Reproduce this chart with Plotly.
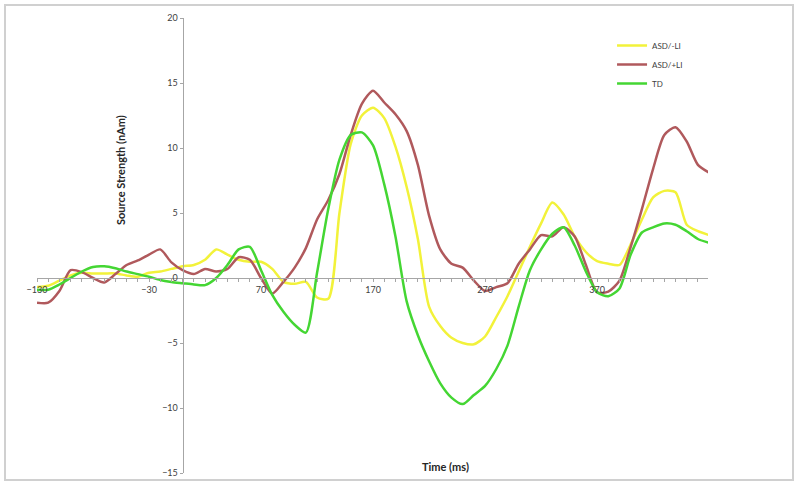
import plotly.graph_objects as go

time_ms = list(range(-130, 471, 10))

asd_minus_li = [-0.7, -0.6, -0.2, 0.2, 0.4, 0.35, 0.35, 0.35, 0.2, 0.1,
                0.4, 0.5, 0.7, 0.9, 1.0, 1.4, 2.2, 1.8, 1.4, 1.25,
                1.25, 0.7, -0.3, -0.45, -0.3, -1.5, -1.6, 5.0, 10.3, 12.5,
                13.1, 12.3, 10.1, 7.0, 3.0, -2.2, -3.7, -4.6, -5.0, -5.1,
                -4.5, -3.0, -1.4, 0.5, 2.4, 4.2, 5.8, 4.9, 3.2, 2.0,
                1.3, 1.1, 1.0, 2.6, 4.5, 6.2, 6.7, 6.6, 4.1, 3.6, 3.3]

asd_plus_li = [-1.9, -1.9, -1.0, 0.6, 0.45, 0.0, -0.35, 0.3, 1.0, 1.35,
               1.8, 2.2, 1.2, 0.6, 0.3, 0.7, 0.5, 0.7, 1.6, 1.4,
               0.0, -1.2, -0.3, 0.8, 2.3, 4.5, 6.0, 8.0, 11.0, 13.4,
               14.4, 13.5, 12.6, 11.3, 8.7, 4.8, 2.2, 1.1, 0.8, -0.2,
               -1.0, -0.7, -0.4, 1.1, 2.2, 3.3, 3.2, 3.9, 3.2, 1.0,
               -1.1, -1.05, -0.2, 2.4, 5.3, 8.4, 11.0, 11.6, 10.5, 8.7, 8.1]

td = [-0.9, -0.9, -0.5, 0.0, 0.5, 0.85, 0.9, 0.75, 0.5, 0.3,
      0.1, -0.15, -0.3, -0.4, -0.5, -0.55, 0.0, 1.0, 2.2, 2.4,
      0.6, -1.3, -2.6, -3.6, -4.2, 0.4, 5.3, 9.1, 11.0, 11.2,
      10.2, 7.2, 3.2, -1.8, -4.4, -6.4, -8.1, -9.2, -9.7, -9.0,
      -8.3, -7.0, -5.2, -2.2, 0.6, 2.2, 3.4, 3.9, 2.5, 0.5,
      -1.1, -1.4, -0.8, 1.8, 3.5, 3.9, 4.2, 4.1, 3.6, 3.0, 2.7]

series_names = ["ASD/-LI", "ASD/+LI", "TD"]
series_colors = ["#F2F23A", "#B0595C", "#44D633"]

fig = go.Figure()
for name, vals, col in zip(series_names, [asd_minus_li, asd_plus_li, td], series_colors):
    fig.add_trace(go.Scatter(x=time_ms, y=vals, mode="lines", name=name,
                             line=dict(color=col, width=2.5, shape="spline", smoothing=0.7)))

L, R, T, B = 37, 92, 18, 12
W, H = 800, 485
pw = W - L - R
ph = H - T - B
x_lo, x_hi = -130, 469
x0_frac = (0 - x_lo) / (x_hi - x_lo)
y0_frac = (0 - (-15)) / 35

axis_col = "#A6A6A6"
tick_font = dict(family="Lato, Open Sans, sans-serif", size=9, color="#404040")

def px_x(p):
    return (p - L) / pw

def px_y(p):
    return (H - B - p) / ph

fig.update_layout(
    width=W, height=H,
    margin=dict(l=L, r=R, t=T, b=B, autoexpand=False),
    paper_bgcolor="white", plot_bgcolor="white",
    font=dict(family="Lato, Open Sans, sans-serif", color="#404040"),
    xaxis=dict(range=[x_lo, x_hi], tick0=-130, dtick=100, showgrid=False, zeroline=False,
               showline=True, linecolor=axis_col, linewidth=1, automargin=False,
               ticks="outside", ticklen=3, tickcolor=axis_col,
               minor=dict(dtick=10, ticks="outside", ticklen=3, tickcolor=axis_col),
               anchor="free", position=y0_frac, tickfont=tick_font),
    yaxis=dict(range=[-15, 20], dtick=5, showgrid=False, zeroline=False,
               showline=True, linecolor=axis_col, linewidth=1, automargin=False,
               ticks="outside", ticklen=3, tickcolor=axis_col,
               anchor="free", position=x0_frac, tickfont=tick_font),
    legend=dict(x=0.857, y=px_y(31), xanchor="left", yanchor="top",
                font=dict(size=8, color="#404040"), bgcolor="rgba(0,0,0,0)",
                tracegroupgap=0),
    showlegend=True,
)

fig.add_annotation(text="<b>Source Strength (nAm)</b>", textangle=-90,
                   xref="paper", yref="paper", x=px_x(120), y=px_y(170),
                   xanchor="center", yanchor="middle",
                   showarrow=False, font=dict(size=11, color="#262626"))
fig.add_annotation(text="<b>Time (ms)</b>",
                   xref="paper", yref="paper", x=px_x(445), y=px_y(466),
                   xanchor="center", yanchor="middle",
                   showarrow=False, font=dict(size=11, color="#262626"))

fig.add_shape(type="rect", xref="paper", yref="paper",
              x0=px_x(5), x1=px_x(793), y0=px_y(480), y1=px_y(5),
              line=dict(color="#D0D0D0", width=2), layer="below")

fig.write_html("out.html", config={"displayModeBar": False},
               post_script="document.body.style.margin='0';document.body.style.overflow='hidden';")
